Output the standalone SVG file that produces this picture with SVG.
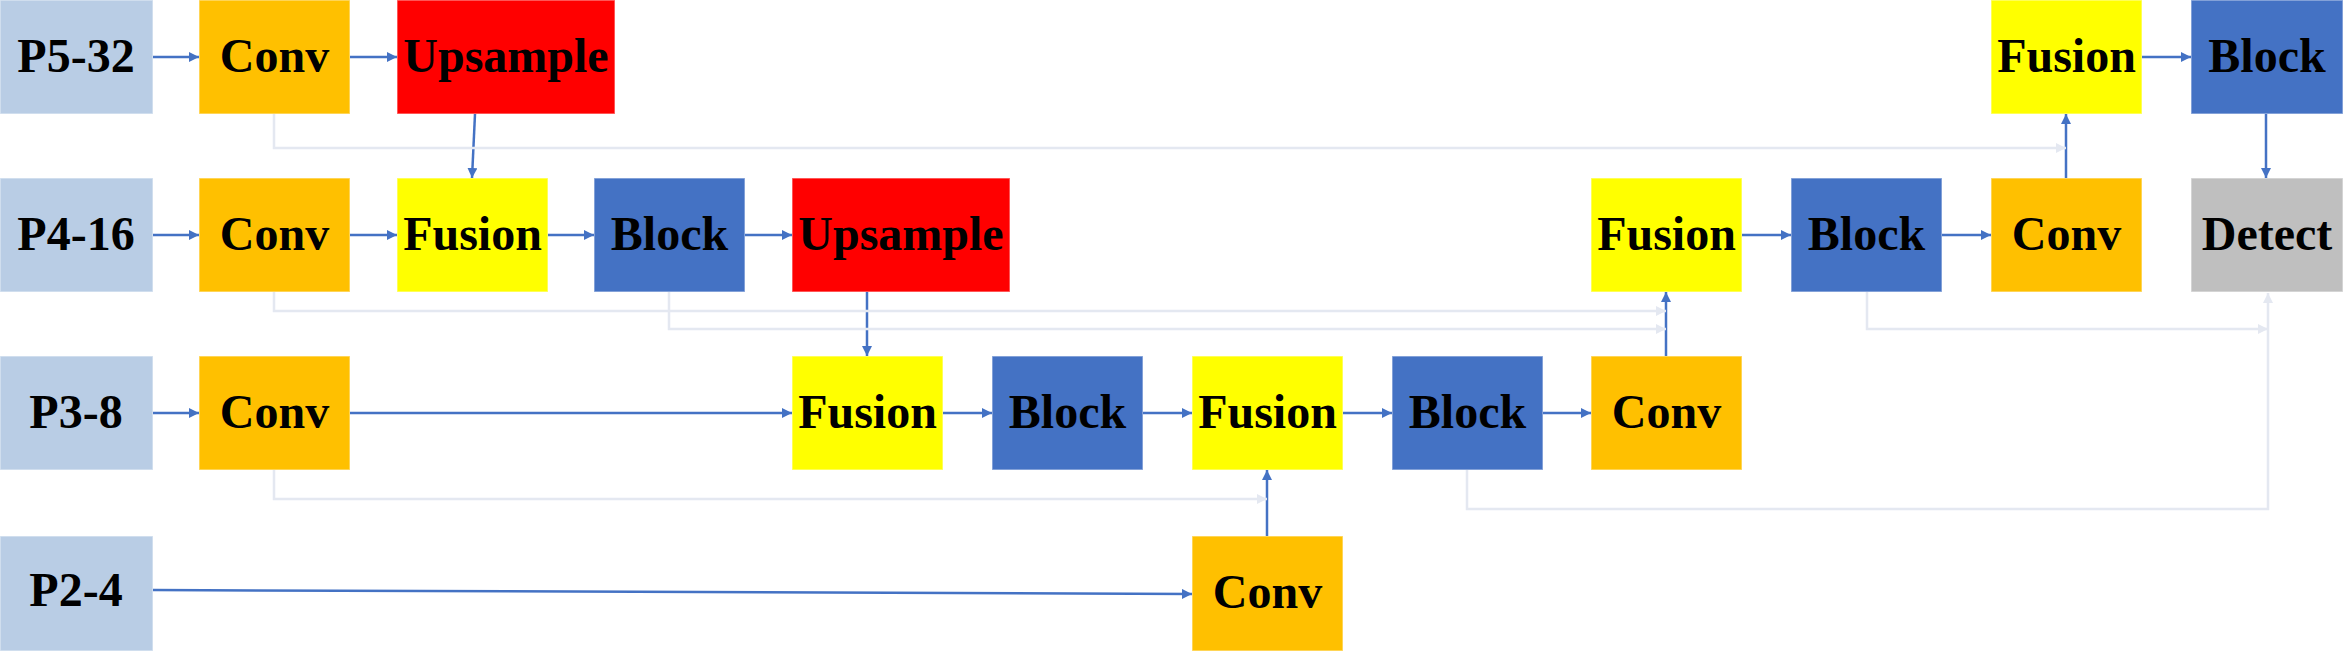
<svg xmlns="http://www.w3.org/2000/svg" width="2343" height="651" viewBox="0 0 2343 651">
<style>
.t{font-family:"Liberation Serif","Times New Roman",serif;font-weight:bold;font-size:48px;fill:#000;text-anchor:middle}
.bx{stroke:#ffffff;stroke-opacity:0.45;stroke-width:1.5}
.p{fill:#B9CDE5}
.cv{fill:#FFC000}
.up{fill:#FF0000}
.fu{fill:#FFFF00}
.bl{fill:#4472C4}
.de{fill:#BFBFBF}
.a{stroke:#4472C4;stroke-width:2.5;fill:none;marker-end:url(#ab)}
.g{stroke:#E4E8F1;stroke-width:2.5;fill:none}
.ga{stroke:#E4E8F1;stroke-width:2.5;fill:none;marker-end:url(#ag)}
</style>
<defs>
<marker id="ab" viewBox="0 0 10 10" refX="10" refY="5" markerWidth="4" markerHeight="4" orient="auto" markerUnits="strokeWidth">
<path d="M0,0 L10,5 L0,10 z" fill="#4472C4"/>
</marker>
<marker id="ag" viewBox="0 0 10 10" refX="10" refY="5" markerWidth="4" markerHeight="4" orient="auto" markerUnits="strokeWidth">
<path d="M0,0 L10,5 L0,10 z" fill="#E4E8F1"/>
</marker>
</defs>
<rect width="2343" height="651" fill="#ffffff"/>

<g id="p5"><rect class="bx p" x="0" y="0" width="153" height="114"/><text class="t" x="76" y="72">P5-32</text></g>
<g id="conv1"><rect class="bx cv" x="199" y="0" width="151" height="114"/><text class="t" x="274.5" y="72">Conv</text></g>
<g id="up1"><rect class="bx up" x="397" y="0" width="218" height="114"/><text class="t" x="506" y="72">Upsample</text></g>
<g id="fusion5"><rect class="bx fu" x="1991" y="0" width="151" height="114"/><text class="t" x="2066.5" y="72">Fusion</text></g>
<g id="block5"><rect class="bx bl" x="2191" y="0" width="152" height="114"/><text class="t" x="2267" y="72">Block</text></g>

<g id="p4"><rect class="bx p" x="0" y="178" width="153" height="114"/><text class="t" x="76" y="250">P4-16</text></g>
<g id="conv2"><rect class="bx cv" x="199" y="178" width="151" height="114"/><text class="t" x="274.5" y="250">Conv</text></g>
<g id="fusion1"><rect class="bx fu" x="397" y="178" width="151" height="114"/><text class="t" x="472.5" y="250">Fusion</text></g>
<g id="block1"><rect class="bx bl" x="594" y="178" width="151" height="114"/><text class="t" x="669.5" y="250">Block</text></g>
<g id="up2"><rect class="bx up" x="792" y="178" width="218" height="114"/><text class="t" x="901" y="250">Upsample</text></g>
<g id="fusion4"><rect class="bx fu" x="1591" y="178" width="151" height="114"/><text class="t" x="1666.5" y="250">Fusion</text></g>
<g id="block4"><rect class="bx bl" x="1791" y="178" width="151" height="114"/><text class="t" x="1866.5" y="250">Block</text></g>
<g id="conv5"><rect class="bx cv" x="1991" y="178" width="151" height="114"/><text class="t" x="2066.5" y="250">Conv</text></g>
<g id="detect"><rect class="bx de" x="2191" y="178" width="152" height="114"/><text class="t" x="2267" y="250">Detect</text></g>

<g id="p3"><rect class="bx p" x="0" y="356" width="153" height="114"/><text class="t" x="76" y="428">P3-8</text></g>
<g id="conv3"><rect class="bx cv" x="199" y="356" width="151" height="114"/><text class="t" x="274.5" y="428">Conv</text></g>
<g id="fusion2"><rect class="bx fu" x="792" y="356" width="151" height="114"/><text class="t" x="867.5" y="428">Fusion</text></g>
<g id="block2"><rect class="bx bl" x="992" y="356" width="151" height="114"/><text class="t" x="1067.5" y="428">Block</text></g>
<g id="fusion3"><rect class="bx fu" x="1192" y="356" width="151" height="114"/><text class="t" x="1267.5" y="428">Fusion</text></g>
<g id="block3"><rect class="bx bl" x="1392" y="356" width="151" height="114"/><text class="t" x="1467.5" y="428">Block</text></g>
<g id="conv6"><rect class="bx cv" x="1591" y="356" width="151" height="114"/><text class="t" x="1666.5" y="428">Conv</text></g>

<g id="p2"><rect class="bx p" x="0" y="536" width="153" height="115"/><text class="t" x="76" y="606">P2-4</text></g>
<g id="conv4"><rect class="bx cv" x="1192" y="536" width="151" height="115"/><text class="t" x="1267.5" y="608">Conv</text></g>

<g id="connectors">
<path class="a" d="M153,57 H199"/>
<path class="a" d="M350,57 H397"/>
<path class="a" d="M2142,57 H2191"/>
<path class="a" d="M475,114 L472,178"/>
<path class="a" d="M2266,114 V178"/>
<path class="a" d="M153,235 H199"/>
<path class="a" d="M350,235 H397"/>
<path class="a" d="M548,235 H594"/>
<path class="a" d="M745,235 H792"/>
<path class="a" d="M1742,235 H1791"/>
<path class="a" d="M1942,235 H1991"/>
<path class="a" d="M2066,178 V114"/>
<path class="a" d="M867,292 V356"/>
<path class="a" d="M153,413 H199"/>
<path class="a" d="M350,413 H792"/>
<path class="a" d="M943,413 H992"/>
<path class="a" d="M1143,413 H1192"/>
<path class="a" d="M1343,413 H1392"/>
<path class="a" d="M1543,413 H1591"/>
<path class="a" d="M1666,356 V292"/>
<path class="a" d="M153,590 L1192,594"/>
<path class="a" d="M1267,536 V470"/>
<path class="ga" d="M274,114 V148 H2066"/>
<path class="ga" d="M274,292 V311 H1666"/>
<path class="ga" d="M669,292 V329 H1666"/>
<path class="ga" d="M274,470 V499 H1267"/>
<path class="ga" d="M1867,292 V329 H2268"/>
<path class="ga" d="M1467,470 V509 H2268 V293"/>
</g>
</svg>
